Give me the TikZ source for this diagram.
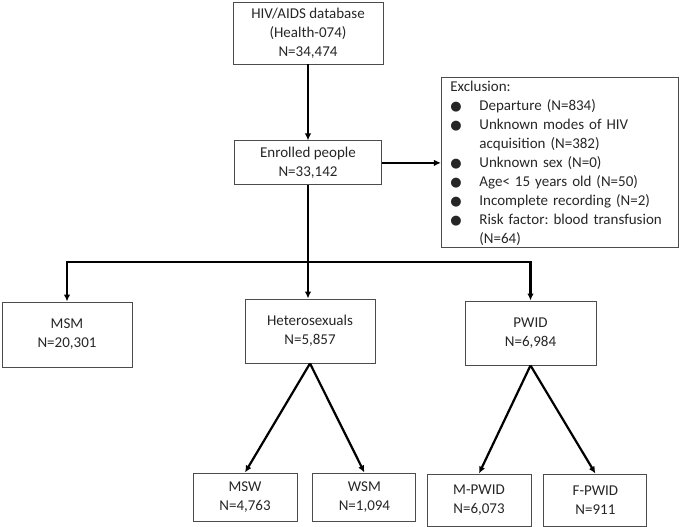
\documentclass[tikz,border=0pt]{standalone}
\usepackage{fontspec}
\setmainfont{Carlito}
\newfontfamily\symfont{DejaVu Sans}
\usetikzlibrary{arrows.meta,positioning,calc}
\frenchspacing

\newcommand{\exbul}{\makebox[29pt][l]{{\symfont\fontsize{13}{19}\selectfont ●}}}

\begin{document}
\begin{tikzpicture}[
    x=1pt, y=-1pt,
    box/.style={draw=black!70, line width=0.9pt, align=center, inner sep=2pt, text=black!85, font=\fontsize{15}{19}\selectfont},
    arrow/.style={-{Latex[length=7pt,width=6.5pt]}, line width=2.2pt}
]
\useasboundingbox (0,0) rectangle (685,527);

% Nodes
\node [box, minimum width=150pt, minimum height=62pt] (db) at (308,33) {HIV/AIDS database\\(Health-074)\\N=34,474};
\node [box, minimum width=147pt, minimum height=44pt, below=76pt of db] (enrol) {Enrolled people\\N=33,142};
\node [box, right=59pt of enrol, minimum width=237pt, minimum height=170pt, text width=219pt, align=left] (excl)
    {Exclusion:\\
     \exbul Departure (N=834)\\
     \exbul Unknown modes of HIV\\
     \hspace*{29pt}acquisition (N=382)\\
     \exbul Unknown sex (N=0)\\
     \exbul Age< 15 years old (N=50)\\
     \exbul Incomplete recording (N=2)\\
     \exbul Risk factor: blood transfusion\\
     \hspace*{29pt}(N=64)};

\node [box, minimum width=130pt, minimum height=65pt] (msm) at (67,334.5) {MSM\\N=20,301};
\node [box, minimum width=130pt, minimum height=64pt] (het) at (310,331) {Heterosexuals\\N=5,857};
\node [box, minimum width=131pt, minimum height=64pt] (pwid) at (530.5,333) {PWID\\N=6,984};

\node [box, minimum width=104pt, minimum height=48pt] (msw) at (245,497) {MSW\\N=4,763};
\node [box, minimum width=103pt, minimum height=48pt, right=15pt of msw] (wsm) {WSM\\N=1,094};
\node [box, minimum width=104pt, minimum height=52pt] (mpwid) at (479,500) {M-PWID\\N=6,073};
\node [box, minimum width=103pt, minimum height=52pt, right=12pt of mpwid] (fpwid) {F-PWID\\N=911};

\coordinate (bus) at (309.5,262);

% Connectors
\draw [arrow] (db) -- (enrol);
\draw [arrow] (enrol) -- (excl);
\draw [arrow] (enrol.south) -- (enrol.south |- het.north);
\draw [arrow] (bus) -| (msm.north);
\draw [arrow] (bus) -| (pwid.north);

\draw [arrow] (het.south) -- (msw.north);
\draw [arrow] (het.south) -- (wsm.north);
\draw [arrow] (pwid.south) -- (mpwid.north);
\draw [arrow] (pwid.south) -- (fpwid.north);

\end{tikzpicture}
\end{document}
